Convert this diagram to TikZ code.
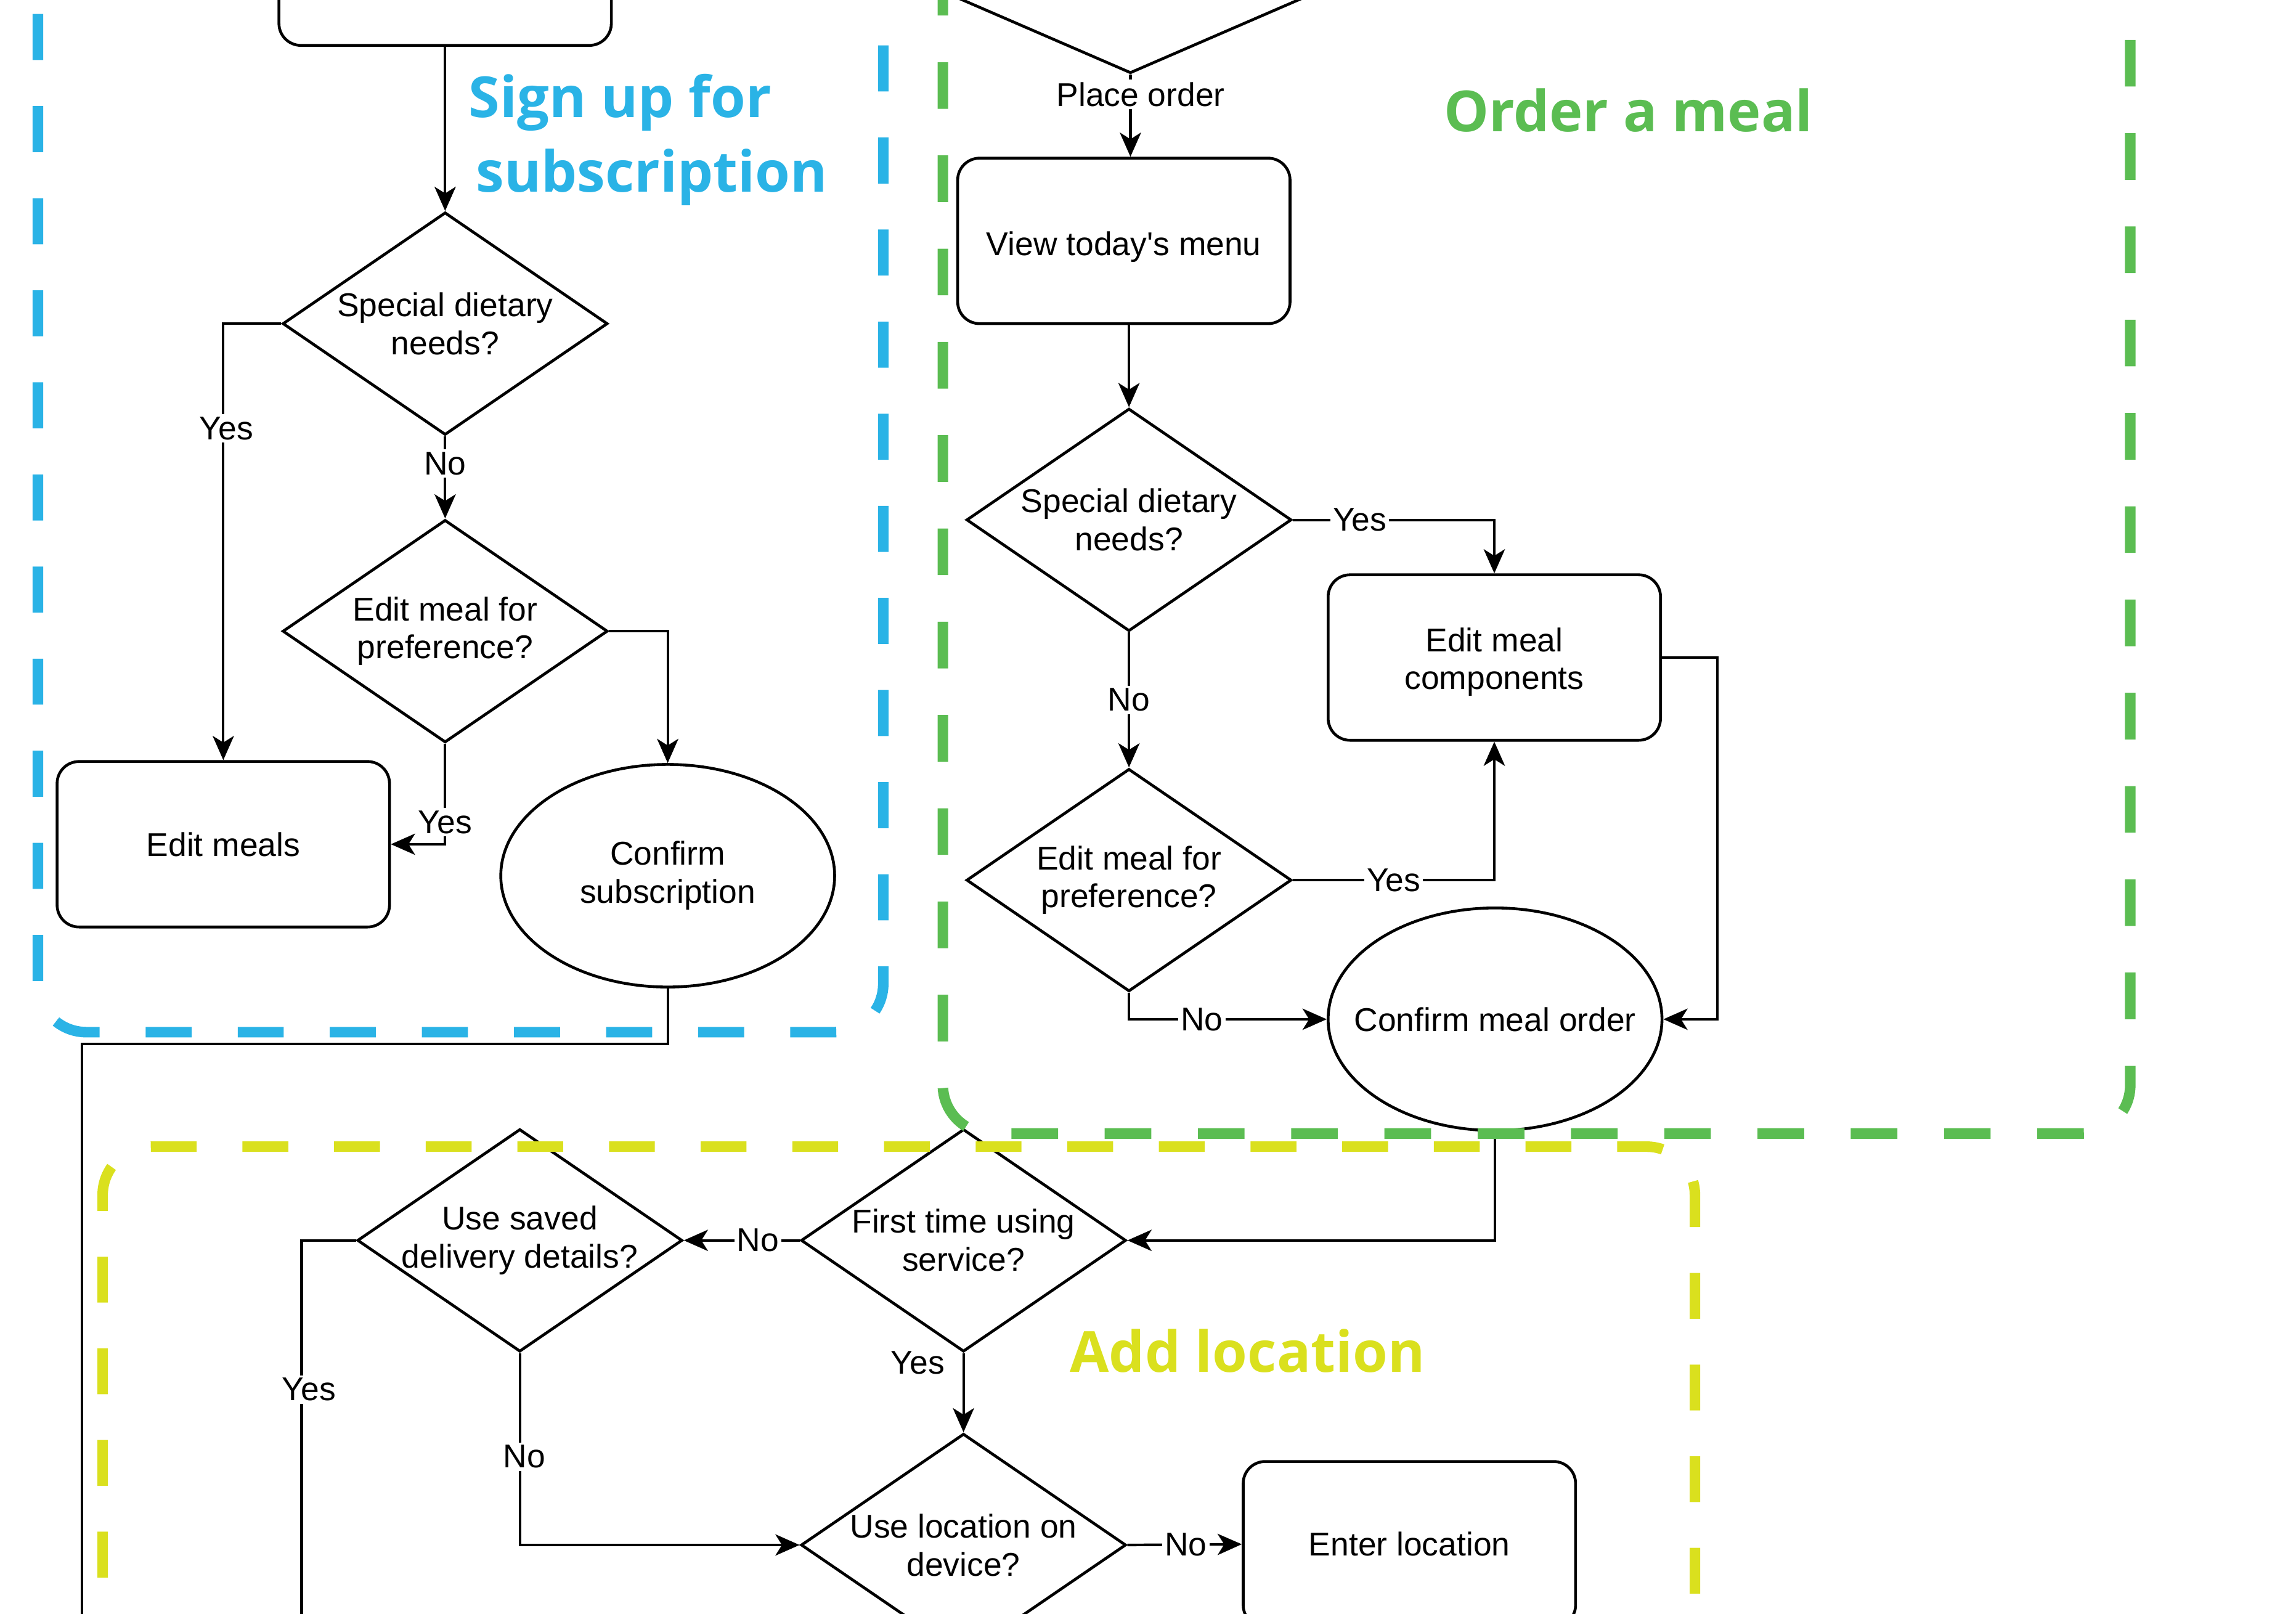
\documentclass[tikz,border=0pt]{standalone}
\usepackage{fontspec}
\setmainfont{Liberation Sans}
\newfontfamily\titlefont{Open Sans}
\usetikzlibrary{arrows.meta,shapes.geometric}
\definecolor{regblue}{HTML}{2AB3E6}
\definecolor{reggreen}{HTML}{5BBD52}
\definecolor{regyellow}{HTML}{DAE01E}
\begin{document}
\begin{tikzpicture}[x=0.02cm,y=-0.02cm,
  every node/.style={font=\fontsize{12.8}{14.8}\selectfont},
  proc/.style={draw, line width=1.1pt, rounded corners=0.3cm, minimum width=227*0.02cm, minimum height=113*0.02cm, inner sep=0pt, align=center},
  dec/.style={draw, line width=1.1pt, diamond, minimum width=222*0.02cm, minimum height=152*0.02cm, inner sep=0pt},
  term/.style={draw, line width=1.1pt, ellipse, minimum width=228*0.02cm, minimum height=152*0.02cm, inner sep=0pt},
  inlbl/.style={align=center, inner sep=0pt},
  conn/.style={line width=1pt, -{Stealth[length=0.33cm,width=0.29cm,inset=0.09cm]}},
  wire/.style={line width=1pt},
  lbl/.style={fill=white, inner sep=1pt},
  region/.style={line width=4.1pt, rounded corners=0.66cm},
  title/.style={font=\titlefont\bfseries\fontsize{22}{26}\selectfont, anchor=base, inner sep=0pt}
]
\useasboundingbox (0,0) rectangle (1568,1102);
\clip (0,0) rectangle (1568,1102);

% ---- Sign up for subscription ----
\node[proc] (top) at (304,-25.5) {};
\node[dec, label={[inlbl]center:{Special dietary\\needs?}}] (d1) at (304,221) {};
\node[dec, label={[inlbl]center:{Edit meal for\\preference?}}] (d2) at (304,431) {};
\node[proc] (em) at (152.5,576.5) {Edit meals};
\node[term, label={[inlbl]center:{Confirm\\subscription}}] (cs) at (456,598) {};

% ---- Order a meal ----
\node[dec, minimum width=350*0.02cm] (d0) at (772,-26) {};
\node[proc, label={[inlbl, yshift=-0.08cm]center:{View today\textquotesingle s menu}}] (vm) at (767.5,164.5) {};
\node[dec, label={[inlbl]center:{Special dietary\\needs?}}] (d3) at (771,355) {};
\node[proc, label={[inlbl, yshift=-0.06cm]center:{Edit meal\\components}}] (emc) at (1020.5,449) {};
\node[dec, label={[inlbl]center:{Edit meal for\\preference?}}] (d4) at (771,601) {};
\node[term, label={[inlbl]center:{Confirm meal order}}] (cmo) at (1021,696) {};

% ---- Add location ----
\node[dec, label={[inlbl]center:{First time using\\service?}}] (d5) at (658,847) {};
\node[dec, label={[inlbl]center:{Use saved\\delivery details?}}] (d6) at (355,847) {};
\node[dec, label={[inlbl]center:{Use location on\\device?}}] (d7) at (658,1055) {};
\node[proc] (el) at (962.5,1054.5) {Enter location};

\coordinate (c1) at (56,713);
\coordinate (out1) at (56,1130);
\coordinate (out2) at (206,1130);

% ---- connectors ----
\draw[conn] (top.south) -- (d1.north);
\draw[conn] (d1.west) -| (em.north) node[lbl, pos=0.62, xshift=0.04cm] {Yes};
\draw[conn] (d1.south) -- (d2.north) node[lbl, pos=0.33] {No};
\draw[conn] (d2.east) -| (cs.north);
\draw[conn] (d2.south) |- (em.east) node[lbl, pos=0.39] {Yes};
\draw[wire] (cs.south) |- (c1) -- (out1);

\draw[conn] (d0.south) -- (d0.south |- vm.north) node[lbl, pos=0.24, xshift=0.14cm] {Place order};
\draw[conn] (d3.north |- vm.south) -- (d3.north);
\draw[conn] (d3.east) -| (emc.north) node[lbl, pos=0.166] {Yes};
\draw[conn] (d3.south) -- (d4.north) node[lbl, pos=0.5] {No};
\draw[conn] (d4.east) -| (emc.south) node[lbl, pos=0.25] {Yes};
\draw[conn] (d4.south) |- (cmo.west) node[lbl, pos=0.684] {No};
\draw[conn] (emc.east) -- ++(38,0) |- (cmo.east);
\draw[conn] (cmo.south) |- (d5.east);

\draw[conn] (d5.west) -- (d6.east) node[lbl, pos=0.36] {No};
\draw[wire] (d6.west) -| (out2) node[lbl, pos=0.68, xshift=0.1cm] {Yes};
\draw[conn] (d6.south) |- (d7.west) node[lbl, pos=0.27, xshift=0.06cm] {No};
\draw[conn] (d5.south) -- (d7.north) node[pos=0.125, anchor=east, inner sep=0pt, xshift=-0.24cm] {Yes};
\draw[conn] (d7.east) -- (el.west) node[lbl, pos=0.51] {No};

% ---- titles ----
\node[title, text=regblue] (t1a) at (423.5,80) {Sign up for};
\node[title, text=regblue] (t1b) at (445,131) {subscription};
\node[title, text=reggreen] (t2) at (1112,90) {Order a meal};
\node[title, text=regyellow] (t3) at (852,937) {Add location};

% ---- regions ----
\draw[region, regblue, dash pattern=on 0.629cm off 0.629cm, dash phase=1.154cm]
  (603.2,-100) -- (603.2,704.8) -- (25.9,704.8) -- (25.9,-100);
\draw[region, reggreen, dash pattern=on 0.637cm off 0.637cm, dash phase=0.002cm]
  (1454.8,-100) -- (1454.8,774) -- (643.9,774) -- (643.9,-100);
\draw[region, regyellow, dash pattern=on 0.626cm off 0.626cm, dash phase=0.048cm]
  (70.1,1200) -- (70.1,783) -- (1157.5,783) -- (1157.5,1200);
\end{tikzpicture}
\end{document}
